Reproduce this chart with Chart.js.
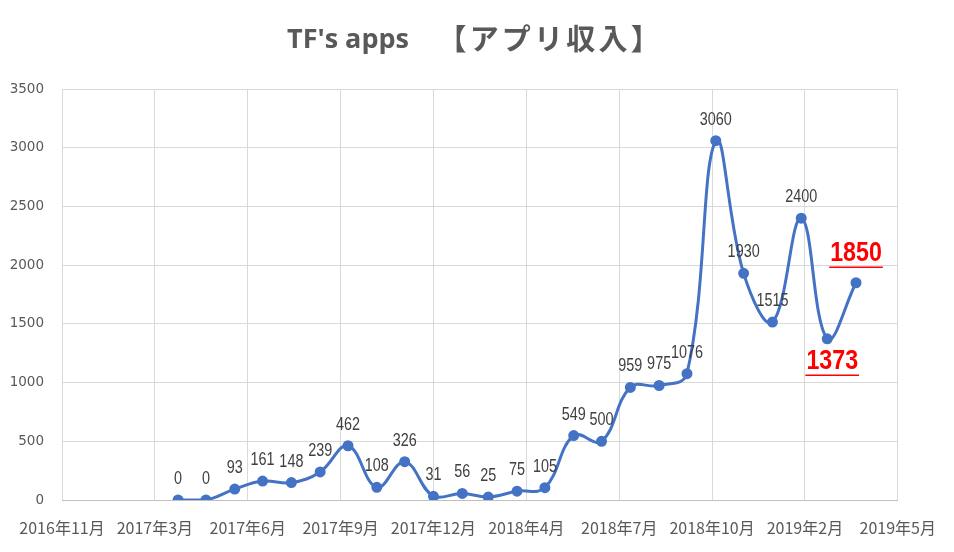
<!DOCTYPE html>
<html>
<head>
<meta charset="utf-8">
<script src="https://cdn.jsdelivr.net/npm/chart.js@4"></script>
<style>
  html, body { margin: 0; padding: 0; background: #fff; }
  #wrap { width: 954px; height: 552px; }
</style>
</head>
<body>
<div id="wrap"><canvas id="chart"></canvas></div>
<script>
// monthly app revenue
const months = [
  '2017-04', '2017-05', '2017-06', '2017-07', '2017-08', '2017-09', '2017-10',
  '2017-11', '2017-12', '2018-01', '2018-02', '2018-03', '2018-04', '2018-05',
  '2018-06', '2018-07', '2018-08', '2018-09', '2018-10', '2018-11', '2018-12',
  '2019-01', '2019-02', '2019-03', '2019-04'
];
const revenue = [
  0, 0, 93, 161, 148, 239, 462, 108, 326, 31, 56, 25, 75, 105,
  549, 500, 959, 975, 1076, 3060, 1930, 1515, 2400, 1373, 1850
];

// date axis: starts 2016-11-27, one gridline every 100 days
const axisStart = '2016-11-27';
const axisStepDays = 100;
const xTickLabels = [
  '2016年11月', '2017年3月', '2017年6月', '2017年9月', '2017年12月',
  '2018年4月', '2018年7月', '2018年10月', '2019年2月', '2019年5月'
];
const yMax = 3500;
const yStep = 500;

const titleLatin = "TF's apps";
const titleJa = '【アプリ収入】';

// the last two values are called out in red
const highlighted = ['2019-03', '2019-04'];
const labelBelow = ['2019-03'];

const DAY = 86400000;
function toUTC(s) {
  const p = s.split('-').map(Number);
  return Date.UTC(p[0], p[1] - 1, p[2] || 1);
}
const startMs = toUTC(axisStart);
const points = months.map((m, i) => ({ x: (toUTC(m) - startMs) / DAY, y: revenue[i] }));

// condensed text: squeeze horizontally around the centre
function narrowText(ctx, txt, x, y, sx) {
  ctx.save();
  ctx.translate(x, y);
  ctx.scale(sx, 1);
  ctx.fillText(txt, 0, 0);
  ctx.restore();
}

const valueLabels = {
  id: 'valueLabels',
  afterDatasetsDraw(chart) {
    const ctx = chart.ctx;
    const meta = chart.getDatasetMeta(0);
    ctx.save();
    ctx.textAlign = 'center';
    ctx.textBaseline = 'middle';
    meta.data.forEach((pt, i) => {
      const txt = String(revenue[i]);
      if (highlighted.includes(months[i])) {
        const below = labelBelow.includes(months[i]);
        const cx = below ? pt.x + 5 : pt.x;
        const cy = below ? pt.y + 23 : pt.y - 29;
        ctx.font = 'bold 27px "Liberation Sans", sans-serif';
        ctx.fillStyle = '#ff0000';
        narrowText(ctx, txt, cx, cy, 0.86);
        const w = ctx.measureText(txt).width * 0.86;
        ctx.strokeStyle = '#ff0000';
        ctx.lineWidth = 1.5;
        ctx.beginPath();
        ctx.moveTo(cx - w / 2 - 1, cy + 13.5);
        ctx.lineTo(cx + w / 2 + 1, cy + 13.5);
        ctx.stroke();
      } else {
        ctx.font = '18px "Liberation Sans", sans-serif';
        ctx.fillStyle = '#404040';
        narrowText(ctx, txt, pt.x, pt.y - 21, 0.8);
      }
    });
    ctx.restore();
  }
};

const titleDraw = {
  id: 'titleDraw',
  afterDraw(chart) {
    const ctx = chart.ctx;
    ctx.save();
    ctx.fillStyle = '#595959';
    ctx.textBaseline = 'middle';
    ctx.textAlign = 'left';
    ctx.font = 'bold 27px "Open Sans", sans-serif';
    let x = 287;
    ctx.fillText(titleLatin, x, 40);
    x += ctx.measureText(titleLatin).width + 43;
    ctx.font = 'bold 29px "Noto Sans CJK JP", sans-serif';
    ctx.textAlign = 'center';
    for (const ch of titleJa) {
      ctx.fillText(ch, x, 39);
      x += 32.2;
    }
    ctx.restore();
  }
};

const ctx = document.getElementById('chart').getContext('2d');
new Chart(ctx, {
  type: 'line',
  data: {
    datasets: [{
      label: 'アプリ収入',
      data: points,
      borderColor: '#4472c4',
      backgroundColor: '#4472c4',
      borderWidth: 3,
      pointRadius: 4,
      pointBackgroundColor: '#4472c4',
      pointBorderColor: '#4472c4',
      tension: 0.4,
      fill: false,
    }],
  },
  options: {
    responsive: true,
    maintainAspectRatio: false,
    animation: false,
    layout: { padding: { left: 0, right: 55, top: 89, bottom: 0 } },
    plugins: {
      legend: { display: false },
      tooltip: { enabled: false },
      title: { display: false },
    },
    scales: {
      x: {
        type: 'linear',
        min: 0,
        max: axisStepDays * (xTickLabels.length - 1),
        grid: { color: '#d9d9d9', drawTicks: false },
        border: { color: '#bfbfbf' },
        ticks: {
          stepSize: axisStepDays,
          autoSkip: false,
          maxRotation: 0,
          padding: 18,
          color: '#595959',
          font: { family: '"Noto Sans CJK JP", sans-serif', size: 16 },
          callback: (v, i) => xTickLabels[i],
        },
        afterFit(scale) { scale.height = 52; },
      },
      y: {
        min: 0,
        max: yMax,
        grid: { color: '#d9d9d9', drawTicks: false },
        border: { display: false },
        ticks: {
          stepSize: yStep,
          padding: 18,
          color: '#595959',
          font: { family: '"DejaVu Sans", sans-serif', size: 13.5 },
          callback: (v) => String(v),
        },
        afterFit(scale) { scale.width = 62; },
      },
    },
  },
  plugins: [valueLabels, titleDraw],
});
</script>
</body>
</html>
